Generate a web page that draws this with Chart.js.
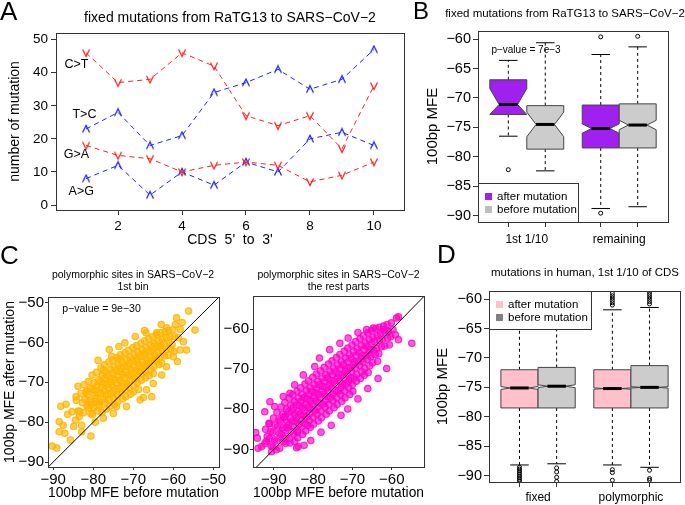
<!DOCTYPE html>
<html>
<head>
<meta charset="utf-8">
<script src="https://cdn.jsdelivr.net/npm/chart.js@4.4.1/dist/chart.umd.min.js"></script>
<style>
  body { margin: 0; background: #fff; width: 685px; height: 505px; position: relative; overflow: hidden; }
  canvas { position: absolute; }
</style>
</head>
<body>
<canvas id="panelA" width="415" height="250" style="left:0;top:0"></canvas>
<canvas id="panelB" width="280" height="250" style="left:405px;top:0"></canvas>
<canvas id="panelC1" width="235" height="265" style="left:0;top:240px"></canvas>
<canvas id="panelC2" width="215" height="265" style="left:222px;top:240px"></canvas>
<canvas id="panelD" width="255" height="265" style="left:430px;top:240px"></canvas>
<script>
const FONT = '"Liberation Sans", Arial, Helvetica, sans-serif';
const MINUS = '\u2212';
const fmt = (v) => String(v).replace('-', MINUS);

// ---- panel A: fixed mutations per CDS bin
const cdsBins = [1, 2, 3, 4, 5, 6, 7, 8, 9, 10];
const cToT = [46, 37, 38, 46, 42, 27, 24, 27, 17, 36];
const tToC = [23, 28, 18, 21, 34, 37, 41, 35, 38, 47];
const gToA = [18, 15, 14, 10, 12, 13, 12, 7, 9, 13];
const aToG = [8, 12, 3, 10, 6, 13, 10, 20, 22, 18];
const aTicksX = [2, 4, 6, 8, 10];
const aTicksY = [0, 10, 20, 30, 40, 50];

// ---- panel B: MFE of fixed mutations (after / before)
const bGroups = ['1st 1/10', 'remaining'];
const boxAt = [1, 2, 3.5, 4.5];
const groupAt = [1.5, 4];
const bLower = [-76.5, -82.4, -88.8, -88.5];
const bQ1 = [-72.8, -78.7, -78.5, -78.5];
const bMedian = [-71.1, -74.5, -75.2, -74.6];
const bQ3 = [-66.9, -71.3, -71.2, -71.0];
const bUpper = [-63.6, -60.6, -62.6, -61.3];
const bNotch = [2.7, 2.1, 0.8, 0.8];
const bOutliers = [[-82.2], [], [-59.6, -89.6], [-59.5]];

// ---- panel D: mutations in human, 1st 1/10 of CDS
const dGroups = ['fixed', 'polymorphic'];
const dLower = [-88.2, -88.0, -88.2, -88.6];
const dQ1 = [-78.5, -78.5, -78.5, -78.5];
const dMedian = [-75.1, -74.8, -75.2, -75.0];
const dQ3 = [-72.0, -71.6, -72.0, -71.3];
const dUpper = [-61.9, -61.9, -61.8, -61.4];
const dNotch = [0.25, 0.25, 0.12, 0.12];
const dOutliers = [
  [-88.6, -88.9, -89.2, -89.5, -89.8, -90.1, -90.4, -90.7, -91.0],
  [-88.7, -89.4, -90.3, -91.0],
  [-59.0, -59.4, -59.8, -60.2, -60.6, -61.0, -89.0, -89.5, -90.8],
  [-58.8, -59.2, -59.6, -60.0, -60.4, -60.8, -89.1, -90.5, -90.8]
];
const mfeTicks = [-90, -85, -80, -75, -70, -65, -60];

// ---- panel C: polymorphic sites, [MFE before, MFE after]
const c1Sites = [
  [-84.2,-74.5],[-83.8,-77.2],[-84.4,-79.5],
  [-83.1,-72.8],[-82.7,-75.1],[-83.4,-77.3],[-82.9,-80.8],
  [-82.3,-70.6],[-81.8,-72.4],[-82.1,-74.2],[-81.6,-75.9],[-82.4,-77.6],
  [-81.2,-69.8],[-80.7,-71.5],[-81.4,-73.0],[-80.9,-74.6],[-81.1,-76.3],[-80.6,-77.9],
  [-80.3,-68.2],[-79.8,-70.1],[-80.1,-71.8],[-79.6,-73.3],[-80.4,-74.9],[-79.9,-76.4],[-80.2,-78.1],
  [-79.2,-67.5],[-78.7,-69.4],[-79.1,-71.0],[-78.8,-72.6],[-79.4,-74.0],[-78.6,-75.6],[-79.0,-77.2],
  [-78.1,-66.4],[-77.7,-68.3],[-78.3,-69.9],[-77.9,-71.3],[-78.2,-72.8],[-77.6,-74.3],[-78.4,-75.9],[-77.8,-77.6],
  [-77.2,-65.6],[-76.8,-67.4],[-77.1,-69.0],[-76.6,-70.5],[-77.3,-72.0],[-76.9,-73.4],[-77.0,-75.0],[-76.7,-76.7],
  [-76.1,-64.9],[-75.7,-66.8],[-76.3,-68.4],[-75.8,-69.9],[-76.2,-71.3],[-75.6,-72.8],[-76.0,-74.4],[-75.9,-76.1],
  [-75.2,-64.5],[-74.8,-66.2],[-75.1,-67.8],[-74.6,-69.3],[-75.3,-70.8],[-74.9,-72.3],[-75.0,-73.9],[-74.7,-75.5],
  [-74.1,-63.8],[-73.7,-65.6],[-74.3,-67.1],[-73.8,-68.6],[-74.2,-70.1],[-73.6,-71.6],[-74.0,-73.2],[-73.9,-74.8],
  [-73.2,-63.1],[-72.8,-64.9],[-73.1,-66.5],[-72.6,-68.0],[-73.3,-69.5],[-72.9,-71.0],[-73.0,-72.6],[-72.7,-74.2],
  [-72.1,-62.6],[-71.7,-64.3],[-72.3,-65.9],[-71.8,-67.4],[-72.2,-68.9],[-71.6,-70.4],[-72.0,-71.9],[-71.9,-73.6],
  [-71.2,-62.0],[-70.8,-63.7],[-71.1,-65.3],[-70.6,-66.8],[-71.3,-68.2],[-70.9,-69.7],[-71.0,-71.3],[-70.7,-73.0],
  [-70.1,-61.3],[-69.7,-63.0],[-70.3,-64.6],[-69.8,-66.1],[-70.2,-67.6],[-69.6,-69.1],[-70.0,-70.7],[-69.9,-72.4],
  [-69.2,-60.8],[-68.8,-62.5],[-69.1,-64.0],[-68.6,-65.5],[-69.3,-67.0],[-68.9,-68.5],[-69.0,-70.1],[-68.7,-71.8],
  [-68.1,-60.2],[-67.7,-61.9],[-68.3,-63.4],[-67.8,-64.9],[-68.2,-66.4],[-67.6,-67.9],[-68.0,-69.5],
  [-67.2,-59.6],[-66.8,-61.3],[-67.1,-62.8],[-66.6,-64.3],[-67.3,-65.8],[-66.9,-67.3],[-67.0,-68.9],
  [-66.1,-59.1],[-65.7,-60.7],[-66.3,-62.2],[-65.8,-63.7],[-66.2,-65.2],[-65.6,-66.7],[-66.0,-68.3],
  [-65.2,-58.6],[-64.8,-60.2],[-65.1,-61.7],[-64.6,-63.2],[-65.3,-64.6],[-64.9,-66.1],[-65.0,-67.8],
  [-64.1,-58.0],[-63.7,-59.6],[-64.3,-61.1],[-63.8,-62.6],[-64.2,-64.1],[-63.6,-65.6],
  [-63.2,-57.6],[-62.8,-59.2],[-63.1,-60.7],[-62.6,-62.2],[-63.3,-63.6],[-62.9,-65.2],
  [-62.1,-57.3],[-61.7,-58.8],[-62.3,-60.3],[-61.8,-61.8],[-62.2,-63.4],
  [-61.2,-57.0],[-60.8,-58.5],[-61.1,-60.0],[-60.6,-61.6],[-61.3,-63.2],
  [-60.1,-56.8],[-59.7,-58.6],[-60.3,-60.5],[-59.8,-62.3],
  [-79.5,-72.0],[-77.4,-70.2],[-75.5,-68.9],[-73.4,-67.3],[-71.5,-66.0],[-69.4,-64.8],[-67.5,-63.5],
  [-65.5,-62.4],[-63.5,-61.0],[-78.5,-74.8],[-76.4,-73.0],[-74.4,-71.6],[-72.5,-70.1],[-70.4,-68.6],
  [-68.5,-67.2],[-66.5,-65.9],[-64.5,-64.6],[-80.5,-75.6],[-81.5,-72.2],[-77.5,-66.9],[-73.5,-64.1],
  [-90.25,-86.0],[-89.1,-86.5],[-88.1,-76.0],[-88.5,-79.9],[-86.4,-78.0],[-88.5,-82.4],[-87.1,-82.8],
  [-85.7,-84.5],[-84.9,-81.1],[-83.5,-78.6],[-82.9,-82.4],[-84.3,-73.6],[-80.6,-83.5],[-86.8,-75.5],
  [-87.5,-80.8],[-85.3,-77.4],[-83.8,-71.0],[-78.8,-64.5],[-75.4,-63.5],[-76.0,-61.8],[-73.6,-61.0],
  [-72.1,-60.1],[-69.5,-58.5],[-67.2,-57.0],[-66.8,-57.6],[-64.2,-57.6],[-63.0,-55.5],[-61.7,-56.3],
  [-59.5,-55.5],[-59.2,-53.8],[-58.3,-56.7],[-57.8,-55.0],[-56.2,-52.1],[-54.6,-56.9],[-56.7,-61.9],
  [-58.3,-61.9],[-58.8,-58.8],[-57.5,-59.8],[-60.0,-63.6],[-59.0,-64.8],[-61.7,-66.1],[-62.9,-68.2],
  [-65.0,-70.3],[-65.4,-73.6],[-66.7,-71.9],[-67.5,-73.8],[-68.3,-74.4],[-71.7,-76.1],[-74.2,-76.1],
  [-75.0,-77.8],[-77.5,-79.0],[-79.5,-80.0]
];
const c2Sites = [
  [-92.1,-85.0],[-91.7,-86.8],[-92.3,-88.6],
  [-91.2,-83.6],[-90.8,-85.5],[-91.1,-87.3],[-90.7,-89.1],
  [-90.1,-82.2],[-89.7,-84.0],[-90.3,-85.8],[-89.8,-87.6],[-90.2,-89.4],
  [-89.2,-80.8],[-88.7,-82.6],[-89.1,-84.4],[-88.6,-86.1],[-89.3,-87.9],
  [-88.1,-79.4],[-87.7,-81.2],[-88.3,-82.9],[-87.8,-84.6],[-88.2,-86.3],[-87.6,-88.1],
  [-87.2,-78.3],[-86.8,-80.0],[-87.1,-81.7],[-86.6,-83.3],[-87.3,-85.0],[-86.9,-86.7],[-87.0,-88.5],
  [-86.1,-77.2],[-85.7,-78.9],[-86.3,-80.6],[-85.8,-82.2],[-86.2,-83.8],[-85.6,-85.5],[-86.0,-87.3],
  [-85.2,-76.3],[-84.8,-78.0],[-85.1,-79.7],[-84.6,-81.3],[-85.3,-82.9],[-84.9,-84.5],[-85.0,-86.2],[-84.7,-88.0],
  [-84.1,-75.5],[-83.7,-77.2],[-84.3,-78.9],[-83.8,-80.5],[-84.2,-82.1],[-83.6,-83.7],[-84.0,-85.4],[-83.9,-87.1],
  [-83.2,-74.6],[-82.8,-76.3],[-83.1,-78.0],[-82.6,-79.6],[-83.3,-81.2],[-82.9,-82.8],[-83.0,-84.5],[-82.7,-86.3],
  [-82.1,-73.7],[-81.7,-75.4],[-82.3,-77.1],[-81.8,-78.7],[-82.2,-80.3],[-81.6,-81.9],[-82.0,-83.6],[-81.9,-85.4],
  [-81.2,-72.9],[-80.8,-74.6],[-81.1,-76.3],[-80.6,-77.9],[-81.3,-79.5],[-80.9,-81.1],[-81.0,-82.8],[-80.7,-84.5],
  [-80.1,-72.0],[-79.7,-73.8],[-80.3,-75.5],[-79.8,-77.1],[-80.2,-78.7],[-79.6,-80.3],[-80.0,-82.0],[-79.9,-83.7],
  [-79.2,-71.2],[-78.8,-73.0],[-79.1,-74.7],[-78.6,-76.3],[-79.3,-77.9],[-78.9,-79.5],[-79.0,-81.2],[-78.7,-82.9],
  [-78.1,-70.4],[-77.7,-72.2],[-78.3,-73.9],[-77.8,-75.5],[-78.2,-77.1],[-77.6,-78.7],[-78.0,-80.4],[-77.9,-82.1],
  [-77.2,-69.5],[-76.8,-71.3],[-77.1,-73.0],[-76.6,-74.6],[-77.3,-76.2],[-76.9,-77.8],[-77.0,-79.5],[-76.7,-81.2],
  [-76.1,-68.7],[-75.7,-70.5],[-76.3,-72.2],[-75.8,-73.8],[-76.2,-75.4],[-75.6,-77.0],[-76.0,-78.7],[-75.9,-80.4],
  [-75.2,-67.9],[-74.8,-69.7],[-75.1,-71.4],[-74.6,-73.0],[-75.3,-74.6],[-74.9,-76.2],[-75.0,-77.9],[-74.7,-79.6],
  [-74.1,-67.1],[-73.7,-68.9],[-74.3,-70.6],[-73.8,-72.2],[-74.2,-73.8],[-73.6,-75.4],[-74.0,-77.1],[-73.9,-78.8],
  [-73.2,-66.3],[-72.8,-68.1],[-73.1,-69.8],[-72.6,-71.4],[-73.3,-73.0],[-72.9,-74.6],[-73.0,-76.3],[-72.7,-78.0],
  [-72.1,-65.5],[-71.7,-67.2],[-72.3,-68.9],[-71.8,-70.5],[-72.2,-72.1],[-71.6,-73.7],[-72.0,-75.4],[-71.9,-77.1],
  [-71.2,-64.7],[-70.8,-66.4],[-71.1,-68.1],[-70.6,-69.7],[-71.3,-71.3],[-70.9,-72.9],[-71.0,-74.6],[-70.7,-76.3],
  [-70.1,-63.9],[-69.7,-65.6],[-70.3,-67.3],[-69.8,-68.9],[-70.2,-70.5],[-69.6,-72.1],[-70.0,-73.8],[-69.9,-75.5],
  [-69.2,-63.1],[-68.8,-64.8],[-69.1,-66.5],[-68.6,-68.1],[-69.3,-69.7],[-68.9,-71.3],[-69.0,-73.0],
  [-68.1,-62.4],[-67.7,-64.1],[-68.3,-65.8],[-67.8,-67.4],[-68.2,-69.0],[-67.6,-70.6],[-68.0,-72.3],
  [-67.2,-61.6],[-66.8,-63.3],[-67.1,-65.0],[-66.6,-66.6],[-67.3,-68.2],[-66.9,-69.8],[-67.0,-71.5],
  [-66.1,-60.9],[-65.7,-62.6],[-66.3,-64.3],[-65.8,-65.9],[-66.2,-67.5],[-65.6,-69.1],[-66.0,-70.8],
  [-65.2,-60.3],[-64.8,-62.0],[-65.1,-63.6],[-64.6,-65.2],[-65.3,-66.8],[-64.9,-68.4],
  [-64.1,-59.8],[-63.7,-61.5],[-64.3,-63.1],[-63.8,-64.7],[-64.2,-66.3],[-63.6,-68.0],
  [-63.2,-59.5],[-62.8,-61.2],[-63.1,-62.8],[-62.6,-64.4],[-63.3,-66.1],
  [-62.1,-59.2],[-61.7,-60.9],[-62.3,-62.5],[-61.8,-64.2],
  [-61.2,-58.8],[-60.8,-60.5],[-61.1,-62.2],[-60.6,-63.9],
  [-60.1,-58.4],[-59.7,-60.1],[-60.3,-61.9],
  [-87.5,-82.0],[-85.5,-80.5],[-83.5,-79.0],[-81.5,-77.4],[-79.5,-75.9],[-77.5,-74.3],[-75.5,-72.8],
  [-73.5,-71.2],[-71.5,-69.7],[-69.5,-68.1],[-67.5,-66.6],[-65.5,-65.0],[-86.5,-84.6],[-84.5,-83.0],
  [-82.5,-81.5],[-80.5,-79.9],[-78.5,-78.4],[-76.5,-76.8],[-74.5,-75.3],[-72.5,-73.7],[-70.5,-72.2],
  [-94.6,-85.8],[-94.2,-87.2],[-94.0,-89.7],[-93.1,-89.3],[-91.9,-88.0],[-90.6,-90.6],[-88.5,-89.7],
  [-89.4,-90.1],[-87.6,-87.2],[-85.9,-88.4],[-83.8,-89.3],[-84.2,-89.6],[-91.2,-83.5],[-92.3,-80.6],
  [-91.0,-78.1],[-89.8,-79.3],[-87.6,-76.8],[-85.9,-76.0],[-84.7,-73.9],[-82.5,-71.4],[-79.6,-69.3],
  [-78.4,-67.2],[-75.8,-65.1],[-73.2,-63.5],[-71.1,-62.2],[-68.6,-60.8],[-66.4,-60.1],[-64.7,-59.7],
  [-62.2,-60.1],[-58.8,-57.2],[-58.3,-56.9],[-60.9,-60.5],[-59.1,-61.4],[-58.3,-62.6],[-54.9,-63.5],
  [-61.3,-69.8],[-63.5,-72.3],[-66.1,-74.8],[-68.6,-77.4],[-71.2,-79.9],[-72.9,-81.5],[-75.4,-84.0],
  [-78.0,-85.7],[-80.6,-87.8],[-82.3,-89.0],[-84.0,-85.7],[-81.4,-84.0]
];
const c1Ticks = [-90, -80, -70, -60, -50];
const c2Ticks = [-90, -80, -70, -60];

Chart.defaults.font.family = FONT;
Chart.defaults.color = '#000';

function markerImage(color, up) {
  const c = document.createElement('canvas');
  c.width = 10; c.height = 10;
  const g = c.getContext('2d');
  g.strokeStyle = color;
  g.lineWidth = 1.3;
  g.beginPath();
  if (up) { g.moveTo(1.5, 8.5); g.lineTo(5, 1.5); g.lineTo(8.5, 8.5); }
  else { g.moveTo(1.5, 1.5); g.lineTo(5, 8.5); g.lineTo(8.5, 1.5); }
  g.stroke();
  return c;
}

function axis(o) {
  return {
    type: 'linear', position: o.position, min: o.min, max: o.max,
    afterBuildTicks: (s) => { s.ticks = o.ticks.map((v) => ({ value: v })); },
    afterFit: (s) => {
      if (s.isHorizontal()) s.height = o.size; else s.width = o.size;
      s.paddingLeft = s.paddingRight = s.paddingTop = s.paddingBottom = 0;
    },
    grid: { drawOnChartArea: false, drawTicks: true, tickLength: o.tickLength ?? 5, tickColor: o.tickColor || '#333', lineWidth: 1 },
    border: { display: false },
    ticks: { color: '#000', font: { size: o.fontSize || 14 }, padding: o.pad ?? 3, maxRotation: 0, autoSkip: false,
      callback: o.label || ((v) => fmt(v)) },
    title: { display: !!o.title, text: o.title, color: '#000', font: { size: o.titleSize || 14 },
      padding: o.titlePad || { top: 0, bottom: 0 } }
  };
}

// plot frame, titles, letters, free text
const decorPlugin = {
  id: 'decor',
  afterDraw(chart, args, o) {
    const { ctx, chartArea: a } = chart;
    ctx.save();
    ctx.strokeStyle = '#333';
    ctx.lineWidth = 1;
    ctx.strokeRect(Math.round(a.left) + 0.5, Math.round(a.top) + 0.5, Math.round(a.right - a.left), Math.round(a.bottom - a.top));
    ctx.fillStyle = '#000';
    (o.texts || []).forEach((t) => {
      ctx.font = `${t.size}px ${FONT}`;
      ctx.textAlign = t.align || 'center';
      ctx.textBaseline = t.baseline || 'middle';
      let x = t.x, y = t.y;
      if (t.data) { x = chart.scales.x.getPixelForValue(t.x); y = chart.scales.y.getPixelForValue(t.y); }
      ctx.fillText(t.text, x, y);
    });
    ctx.restore();
  }
};

// notched boxes and whiskers
const boxPlugin = {
  id: 'notchBoxes',
  beforeDatasetsDraw(chart, args, o) {
    if (!o.q1) return;
    const { ctx, scales: { x, y } } = chart;
    const py = (v) => y.getPixelForValue(v);
    boxAt.forEach((pos, i) => {
      const xl = x.getPixelForValue(pos - 0.5), xr = x.getPixelForValue(pos + 0.5);
      const xc = x.getPixelForValue(pos);
      const hw = (xr - xl) / 2, nw = hw / 2;
      const m = o.median[i];
      const lo = Math.max(m - o.notch[i], o.q1[i]), hi = Math.min(m + o.notch[i], o.q3[i]);
      ctx.save();
      ctx.strokeStyle = '#000';
      ctx.lineWidth = 1;
      ctx.setLineDash([3, 3]);
      ctx.beginPath();
      ctx.moveTo(xc, py(o.q3[i])); ctx.lineTo(xc, py(o.upper[i]));
      ctx.moveTo(xc, py(o.q1[i])); ctx.lineTo(xc, py(o.lower[i]));
      ctx.stroke();
      ctx.setLineDash([]);
      ctx.beginPath();
      ctx.moveTo(xc - hw / 2, py(o.upper[i])); ctx.lineTo(xc + hw / 2, py(o.upper[i]));
      ctx.moveTo(xc - hw / 2, py(o.lower[i])); ctx.lineTo(xc + hw / 2, py(o.lower[i]));
      ctx.stroke();
      ctx.beginPath();
      ctx.moveTo(xl, py(o.q1[i])); ctx.lineTo(xl, py(lo)); ctx.lineTo(xl + nw, py(m));
      ctx.lineTo(xl, py(hi)); ctx.lineTo(xl, py(o.q3[i])); ctx.lineTo(xr, py(o.q3[i]));
      ctx.lineTo(xr, py(hi)); ctx.lineTo(xr - nw, py(m)); ctx.lineTo(xr, py(lo));
      ctx.lineTo(xr, py(o.q1[i]));
      ctx.closePath();
      ctx.fillStyle = o.colors[i];
      ctx.fill();
      ctx.strokeStyle = '#444';
      ctx.stroke();
      ctx.lineWidth = 3;
      ctx.strokeStyle = '#000';
      ctx.beginPath();
      ctx.moveTo(xl + nw, py(m)); ctx.lineTo(xr - nw, py(m));
      ctx.stroke();
      ctx.restore();
    });
  },
  afterDatasetsDraw(chart, args, o) {
    if (!o.legend) return;
    const { ctx, chartArea: a } = chart;
    const L = o.legend;
    const top = L.anchor === 'bottom' ? a.bottom - L.h : a.top;
    ctx.save();
    ctx.fillStyle = '#fff';
    ctx.fillRect(a.left, top, L.w, L.h);
    ctx.strokeStyle = '#333';
    ctx.lineWidth = 1;
    ctx.strokeRect(Math.round(a.left) + 0.5, Math.round(top) + 0.5, L.w, L.h);
    ctx.font = `11.5px ${FONT}`;
    ctx.textBaseline = 'middle';
    ctx.textAlign = 'left';
    L.labels.forEach((lab, i) => {
      const yy = top + 13.5 + i * 13;
      ctx.fillStyle = L.colors[i];
      ctx.fillRect(a.left + 7, yy - 3.5, 7, 7);
      ctx.fillStyle = '#000';
      ctx.fillText(lab, a.left + 19, yy);
    });
    ctx.restore();
  }
};

Chart.register(decorPlugin, boxPlugin);

const base = {
  responsive: false, animation: false, events: [],
  plugins: { legend: { display: false }, tooltip: { enabled: false } }
};

// ---------- A
const toXY = (ys) => cdsBins.map((b, i) => ({ x: b, y: ys[i] }));
const lineSet = (ys, color, up) => ({
  data: toXY(ys), showLine: true, borderColor: color, borderWidth: 1, borderDash: [5, 4],
  pointStyle: markerImage(color, up), pointRadius: 4, tension: 0
});
new Chart(document.getElementById('panelA'), {
  type: 'scatter',
  data: { datasets: [
    lineSet(cToT, '#ff2020', false), lineSet(gToA, '#ff2020', false),
    lineSet(tToC, '#2020ff', true), lineSet(aToG, '#2020ff', true)
  ] },
  options: { ...base,
    layout: { padding: { top: 33, right: 11, left: 0, bottom: 0 } },
    scales: {
      x: axis({ position: 'bottom', min: 0.06, max: 10.94, ticks: aTicksX, size: 40, fontSize: 13.5, pad: 3,
        title: "CDS  5'  to  3'", titleSize: 14, titlePad: { top: 0, bottom: 1 } }),
      y: axis({ position: 'left', min: -1.5, max: 52, ticks: aTicksY, size: 56, fontSize: 13.5, pad: 3,
        title: 'number of mutation', titleSize: 14, titlePad: { top: 7, bottom: 0 } })
    },
    plugins: { ...base.plugins, decor: { texts: [
      { text: 'A', x: 0, y: 20, size: 26, align: 'left', baseline: 'alphabetic' },
      { text: 'fixed mutations from RaTG13 to SARS' + MINUS + 'CoV' + MINUS + '2', x: 230, y: 18, size: 14 },
      { text: 'C>T', x: 0.7, y: 42.4, size: 12.5, data: true },
      { text: 'T>C', x: 0.95, y: 27.3, size: 12.5, data: true },
      { text: 'G>A', x: 0.7, y: 15.2, size: 12.5, data: true },
      { text: 'A>G', x: 0.85, y: 4.0, size: 12.5, data: true }
    ] } }
  }
});

// ---------- box plot panels
const groupTicks = [...boxAt, ...groupAt].sort((p, q) => p - q);
function boxChart(id, pad, ySize, xSize, groups, stats, outliers, legend, texts) {
  const points = [];
  outliers.forEach((vals, i) => vals.forEach((v) => points.push({ x: boxAt[i], y: v })));
  new Chart(document.getElementById(id), {
    type: 'scatter',
    data: { datasets: [{ data: points, pointRadius: 2, borderWidth: 1, borderColor: '#000', backgroundColor: 'rgba(0,0,0,0)' }] },
    options: { ...base,
      layout: { padding: pad },
      scales: {
        x: axis({ position: 'bottom', min: 0.18, max: 5.32, ticks: groupTicks, size: xSize, fontSize: 12, pad: stats.xPad,
          tickColor: (c) => (groupAt.includes(c.tick.value) ? 'rgba(0,0,0,0)' : '#333'),
          label: (v) => { const k = groupAt.indexOf(v); return k >= 0 ? groups[k] : ''; } }),
        y: axis({ position: 'left', min: -91.1, max: -58.6, ticks: mfeTicks, size: ySize, fontSize: 14.5, pad: 2,
          title: '100bp MFE', titleSize: 15, titlePad: stats.titlePad })
      },
      plugins: { ...base.plugins, notchBoxes: { ...stats, legend }, decor: { texts } }
    }
  });
}

boxChart('panelB', { top: 31, right: 17, left: 0, bottom: 0 }, 73, 28, bGroups,
  { lower: bLower, q1: bQ1, median: bMedian, q3: bQ3, upper: bUpper, notch: bNotch, xPad: 5,
    colors: ['#a020f0', '#cccccc', '#a020f0', '#cccccc'], titlePad: { top: 19, bottom: 0 } },
  bOutliers,
  { anchor: 'bottom', w: 100, h: 39, labels: ['after mutation', 'before mutation'], colors: ['#a020f0', '#bebebe'] },
  [
    { text: 'B', x: 8, y: 19, size: 24, align: 'left', baseline: 'alphabetic' },
    { text: 'fixed mutations from RaTG13 to SARS' + MINUS + 'CoV' + MINUS + '2', x: 160, y: 14, size: 11.5 },
    { text: 'p' + MINUS + 'value = 7e' + MINUS + '3', x: 121, y: 50, size: 10 }
  ]);

boxChart('panelD', { top: 51, right: 5, left: 0, bottom: 0 }, 59, 23, dGroups,
  { lower: dLower, q1: dQ1, median: dMedian, q3: dQ3, upper: dUpper, notch: dNotch, xPad: 3,
    colors: ['#ffc0cb', '#cccccc', '#ffc0cb', '#cccccc'], titlePad: { top: 4, bottom: 0 } },
  dOutliers,
  { anchor: 'top', w: 102, h: 38, labels: ['after mutation', 'before mutation'], colors: ['#ffc0cb', '#808080'] },
  [
    { text: 'D', x: 7, y: 23, size: 26, align: 'left', baseline: 'alphabetic' },
    { text: 'mutations in human, 1st 1/10 of CDS', x: 155, y: 33, size: 11.5 }
  ]);

// ---------- C scatter panels
function scatterChart(id, sites, color, fill, pad, ySize, range, ticks, showYTitle, texts) {
  new Chart(document.getElementById(id), {
    type: 'scatter',
    data: { datasets: [
      { data: [{ x: -100, y: -100 }, { x: -40, y: -40 }], showLine: true, borderColor: '#000', borderWidth: 1, pointRadius: 0 },
      { data: sites.map(([b, a]) => ({ x: b, y: a })), pointRadius: 3.2, borderWidth: 1.2, borderColor: color, backgroundColor: fill }
    ] },
    options: { ...base,
      layout: { padding: pad },
      scales: {
        x: axis({ position: 'bottom', min: range[0], max: range[1], ticks, size: 38, fontSize: 15, tickLength: 3, pad: 1,
          title: '100bp MFE before mutation', titleSize: 14, titlePad: { top: 0, bottom: 3 } }),
        y: axis({ position: 'left', min: range[2], max: range[3], ticks, size: ySize, fontSize: 15, tickLength: 3, pad: 1,
          title: showYTitle ? '100bp MFE after mutation' : '', titleSize: 14, titlePad: { top: 2, bottom: 0 } })
      },
      plugins: { ...base.plugins, decor: { texts } }
    }
  });
}

scatterChart('panelC1', c1Sites, 'rgba(255,180,0,0.85)', 'rgba(255,180,0,0.65)',
  { top: 57, right: 16, left: 0, bottom: 0 }, 48, [-91.3, -48.6, -91.25, -48.6], c1Ticks, true, [
    { text: 'C', x: 0, y: 24, size: 26, align: 'left', baseline: 'alphabetic' },
    { text: 'polymorphic sites in SARS' + MINUS + 'CoV' + MINUS + '2', x: 133, y: 35, size: 10.5 },
    { text: '1st bin', x: 133, y: 47, size: 10.5 },
    { text: 'p' + MINUS + 'value = 9e' + MINUS + '30', x: 101.5, y: 69, size: 10.5 }
  ]);

scatterChart('panelC2', c2Sites, 'rgba(255,0,200,0.8)', 'rgba(255,0,200,0.65)',
  { top: 56, right: 13, left: 0, bottom: 0 }, 31, [-95.3, -51.8, -94.4, -51.7], c2Ticks, false, [
    { text: 'polymorphic sites in SARS' + MINUS + 'CoV' + MINUS + '2', x: 116.5, y: 35, size: 10.5 },
    { text: 'the rest parts', x: 116.5, y: 47, size: 10.5 }
  ]);
</script>
</body>
</html>
